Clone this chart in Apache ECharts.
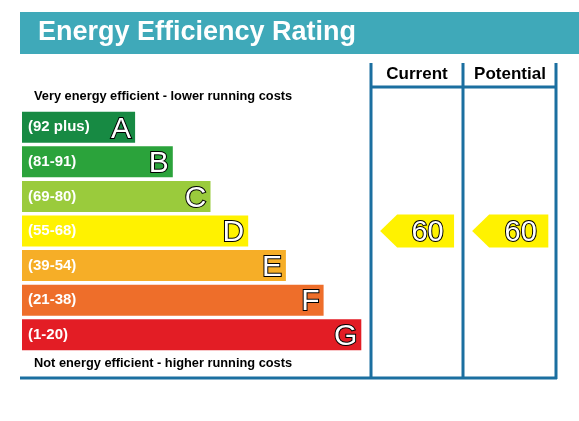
<!doctype html>
<html>
<head>
<meta charset="utf-8">
<script src="https://cdn.jsdelivr.net/npm/echarts@6/dist/echarts.min.js"></script>
<style>html,body{margin:0;padding:0;background:#fff}#main{width:579px;height:421px}</style>
</head>
<body>
<div id="main"></div>
<script>
var bands = ['A', 'B', 'C', 'D', 'E', 'F', 'G'];
var ranges = ['(92 plus)', '(81-91)', '(69-80)', '(55-68)', '(39-54)', '(21-38)', '(1-20)'];
var bandMin = [92, 81, 69, 55, 39, 21, 1];
var barLength = [3, 4, 5, 6, 7, 8, 9];
var colors = ['#178a43', '#2ba33b', '#9acb3c', '#fff200', '#f6ae27', '#ee6e2a', '#e31d25'];
var current = 60;
var potential = 60;

function bandOf(v) {
    for (var i = 0; i < bandMin.length; i++) if (v >= bandMin[i]) return i;
    return bands.length - 1;
}

var chart = echarts.init(document.getElementById('main'));
var ff = 'Liberation Sans, Arial, sans-serif';

function arrowItem(x0, x1, value) {
    return {
        type: 'custom',
        coordinateSystem: 'cartesian2d',
        clip: false,
        z: 5,
        data: [[x0, bandOf(value), x1, value]],
        renderItem: function (params, api) {
            var a = api.coord([api.value(0), api.value(1)]);
            var b = api.coord([api.value(2), api.value(1)]);
            var h = 33, y = a[1];
            var tip = 17;
            return {
                type: 'group',
                children: [{
                    type: 'polygon',
                    shape: { points: [[a[0], y], [a[0] + tip, y - h / 2], [b[0], y - h / 2], [b[0], y + h / 2], [a[0] + tip, y + h / 2]] },
                    style: { fill: colors[bandOf(value)] }
                }, {
                    type: 'text',
                    style: {
                        text: String(api.value(3)), x: (a[0] + tip + b[0]) / 2 + 2, y: y + 2,
                        align: 'center', verticalAlign: 'middle',
                        font: '29px ' + ff, fill: '#fff', stroke: '#000', lineWidth: 2
                    }
                }]
            };
        }
    };
}

chart.setOption({
    animation: false,
    grid: { left: 22, top: 110, width: 377, height: 242 },
    xAxis: { type: 'value', min: 0, max: 10, show: false },
    yAxis: { type: 'category', data: bands, inverse: true, show: false },
    graphic: [
        { type: 'rect', shape: { x: 20, y: 12, width: 559, height: 42 }, style: { fill: '#3fa9b9' } },
        { type: 'text', style: { text: 'Energy Efficiency Rating', x: 38, y: 33, verticalAlign: 'middle', font: 'bold 27px ' + ff, fill: '#fff' } },
        { type: 'text', style: { text: 'Current', x: 417, y: 74, align: 'center', verticalAlign: 'middle', font: 'bold 17px ' + ff, fill: '#000' } },
        { type: 'text', style: { text: 'Potential', x: 510, y: 74, align: 'center', verticalAlign: 'middle', font: 'bold 17px ' + ff, fill: '#000' } },
        { type: 'text', style: { text: 'Very energy efficient - lower running costs', x: 34, y: 96, verticalAlign: 'middle', font: 'bold 12.8px ' + ff, fill: '#000' } },
        { type: 'text', style: { text: 'Not energy efficient - higher running costs', x: 34, y: 363, verticalAlign: 'middle', font: 'bold 12.8px ' + ff, fill: '#000' } },
        { type: 'line', shape: { x1: 371, y1: 63, x2: 371, y2: 379 }, style: { stroke: '#1b6fa0', lineWidth: 3 } },
        { type: 'line', shape: { x1: 463, y1: 63, x2: 463, y2: 379 }, style: { stroke: '#1b6fa0', lineWidth: 3 } },
        { type: 'line', shape: { x1: 556, y1: 63, x2: 556, y2: 379 }, style: { stroke: '#1b6fa0', lineWidth: 3 } },
        { type: 'line', shape: { x1: 371, y1: 87, x2: 556, y2: 87 }, style: { stroke: '#1b6fa0', lineWidth: 3 } },
        { type: 'line', shape: { x1: 20, y1: 378, x2: 557, y2: 378 }, style: { stroke: '#1b6fa0', lineWidth: 3 } }
    ],
    series: [{
        type: 'bar',
        barWidth: 31,
        data: barLength.map(function (v, i) { return { value: v, itemStyle: { color: colors[i] } }; }),
        label: {
            show: true, position: 'insideLeft', distance: 6,
            formatter: function (p) { return ranges[p.dataIndex]; },
            color: '#fff', fontFamily: ff, fontWeight: 'bold', fontSize: 15
        }
    }, {
        type: 'bar',
        barWidth: 31,
        barGap: '-100%',
        data: barLength,
        itemStyle: { color: 'transparent' },
        label: {
            show: true, position: 'insideRight', distance: 4, offset: [0, 2],
            formatter: function (p) { return bands[p.dataIndex]; },
            color: '#fff', textBorderColor: '#000', textBorderWidth: 2,
            fontFamily: ff, fontSize: 30
        }
    },
    arrowItem(9.5, 11.46, current),
    arrowItem(11.94, 13.96, potential)]
});
</script>
</body>
</html>
